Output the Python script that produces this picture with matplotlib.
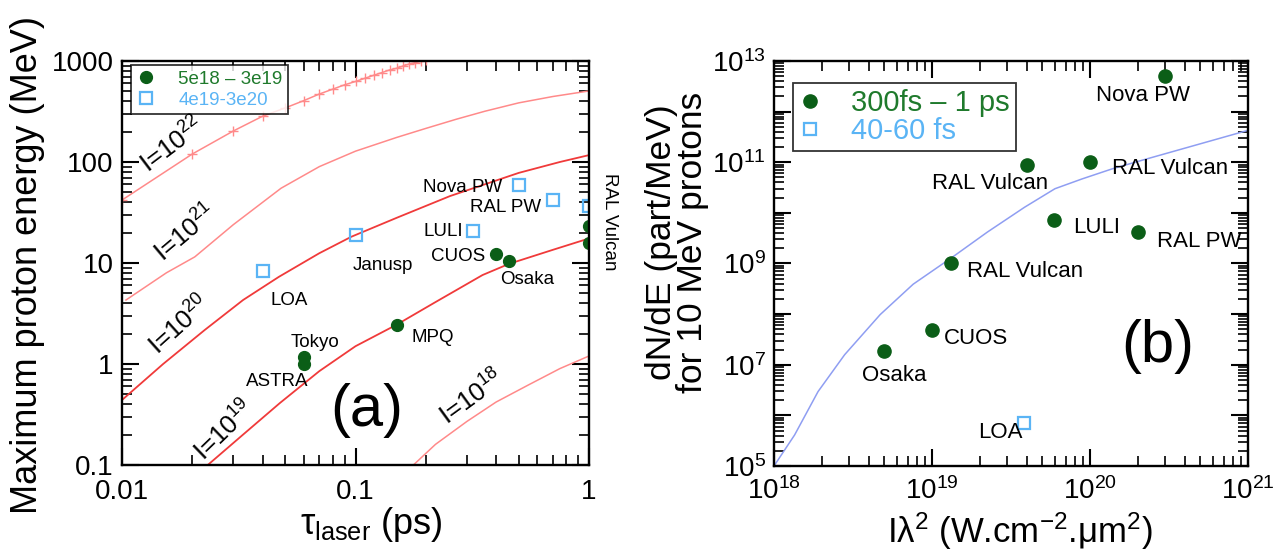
import matplotlib
matplotlib.use("Agg")
import matplotlib.pyplot as plt
from matplotlib.ticker import LogLocator, NullFormatter, FixedLocator

plt.rcParams['font.family'] = ['Liberation Sans', 'DejaVu Sans']
plt.rcParams['mathtext.default'] = 'regular'

# ---------------- panel (a) data ----------------
tau_I22 = [0.01, 0.02, 0.03, 0.04, 0.05, 0.06, 0.07, 0.08, 0.09, 0.10,
           0.11, 0.12, 0.13, 0.14, 0.15, 0.16, 0.17, 0.18, 0.19, 0.20]
E_I22 = [42, 120, 203, 284, 343, 405, 471, 527, 582, 627,
         676, 724, 769, 816, 847, 893, 935, 963, 993, 1020]
tau_I21 = [0.0104, 0.0155, 0.0205, 0.03, 0.048, 0.07, 0.1, 0.15, 0.2, 0.27, 0.358, 0.5, 0.7, 1.0]
E_I21 = [4.3, 8.0, 11.5, 24, 55, 90, 128, 175, 215, 265, 318, 385, 445, 505]
tau_I20 = [0.01, 0.015, 0.0226, 0.033, 0.047, 0.07, 0.096, 0.15, 0.254, 0.5, 0.75, 1.0]
E_I20 = [0.44, 1.0, 2.17, 4.3, 7.3, 12.5, 18.2, 28, 46, 78, 100, 117]
tau_I19 = [0.0233, 0.033, 0.0474, 0.07, 0.1, 0.15, 0.22, 0.35, 0.454, 0.7, 1.0]
E_I19 = [0.1, 0.2, 0.41, 0.85, 1.5, 2.45, 4.1, 7.6, 9.8, 13.5, 17.5]
tau_I18 = [0.177, 0.22, 0.3, 0.4, 0.55, 0.75, 1.0]
E_I18 = [0.1, 0.16, 0.27, 0.42, 0.62, 0.9, 1.2]

curve_labels_a = ['I=10$^{22}$', 'I=10$^{21}$', 'I=10$^{20}$', 'I=10$^{19}$', 'I=10$^{18}$']

green_tau = [0.06, 0.06, 0.15, 0.40, 0.454, 1.0, 1.0]
green_E = [1.18, 1.0, 2.45, 12.4, 10.4, 23, 15.7]
blue_tau = [0.04, 0.10, 0.32, 0.50, 0.70, 1.0]
blue_E = [8.3, 19, 20.8, 59, 42, 37]

names_a = ['Nova PW', 'RAL PW', 'LULI', 'CUOS', 'Janusp', 'Osaka', 'LOA', 'Tokyo', 'ASTRA', 'MPQ']
name_tau_a = [0.288, 0.44, 0.237, 0.274, 0.131, 0.542, 0.0518, 0.0668, 0.046, 0.214]
name_E_a = [55.4, 35.8, 20.3, 11.5, 9.55, 6.8, 4.3, 1.65, 0.664, 1.85]

# ---------------- panel (b) data ----------------
Il2_model = [1.0e18, 1.35e18, 1.9e18, 2.8e18, 4.7e18, 7.6e18, 1.38e19, 2.24e19,
             3.85e19, 6.0e19, 8.9e19, 1.38e20, 2.19e20, 1.0e21]
dNdE_model = [1.0e5, 4.1e5, 2.95e6, 1.58e7, 9.8e7, 3.9e8, 1.41e9, 4.17e9,
              1.29e10, 3.0e10, 4.68e10, 7.4e10, 1.12e11, 4.27e11]

green_Il2 = [3.0e20, 4.0e19, 1.0e20, 5.95e19, 2.0e20, 1.32e19, 1.0e19, 5.0e18]
green_dNdE = [5.1e12, 8.9e10, 1.0e11, 7.2e9, 4.2e9, 1.0e9, 4.9e7, 1.9e7]
blue_Il2 = [3.8e19]
blue_dNdE = [7.2e5]

names_b = ['Nova PW', 'RAL Vulcan', 'RAL Vulcan', 'LULI', 'RAL PW', 'RAL Vulcan', 'CUOS', 'Osaka', 'LOA']
name_x_b = [2.16e20, 2.33e19, 3.2e20, 1.1e20, 4.9e20, 3.88e19, 1.9e19, 5.8e18, 2.7e19]
name_y_b = [2.13e12, 3.88e10, 7.67e10, 5.24e9, 2.77e9, 7.1e8, 3.36e7, 6.2e6, 4.66e5]

GREEN = '#0b5e17'
GREEN_TXT = '#1f7a2c'
BLUE = '#5ab4f5'
RED_DARK = '#f03a3a'
RED_LIGHT = '#ff8a8a'
MODEL_BLUE = '#8f9ef2'

W, H = 1274, 552
fig = plt.figure(figsize=(W / 100, H / 100), dpi=100)

def px_axes(x0, y0, x1, y1):
    return fig.add_axes([x0 / W, 1 - y1 / H, (x1 - x0) / W, (y1 - y0) / H])

def style_axes(ax):
    for s in ax.spines.values():
        s.set_linewidth(1.7)
    ax.tick_params(which='both', direction='in', top=True, right=True)
    ax.tick_params(which='major', length=12, width=1.5)
    ax.tick_params(which='minor', length=7, width=1.2)

# ================= panel (a) =================
axa = px_axes(122, 61, 589, 465)
axa.set_xscale('log')
axa.set_yscale('log')
axa.set_xlim(0.01, 1)
axa.set_ylim(0.1, 1000)
style_axes(axa)

axa.plot(tau_I22, E_I22, color=RED_LIGHT, lw=1.1, marker='+', ms=7, mew=1.0)
axa.plot(tau_I21, E_I21, color=RED_LIGHT, lw=1.1)
axa.plot(tau_I20, E_I20, color=RED_DARK, lw=1.3)
axa.plot(tau_I19, E_I19, color=RED_DARK, lw=1.3)
axa.plot(tau_I18, E_I18, color=RED_LIGHT, lw=1.1)

axa.plot(green_tau, green_E, 'o', color=GREEN, ms=8.5, ls='none', label='5e18 – 3e19')
axa.plot(blue_tau, blue_E, 's', mfc='none', mec=BLUE, mew=1.6, ms=8, ls='none', label='4e19-3e20')

axa.set_xticks([0.01, 0.1, 1], ['0.01', '0.1', '1'])
axa.set_yticks([0.1, 1, 10, 100, 1000], ['0.1', '1', '10', '100', '1000'])
axa.xaxis.set_minor_locator(LogLocator(base=10, subs=range(2, 10)))
axa.yaxis.set_minor_locator(LogLocator(base=10, subs=range(2, 10)))
axa.xaxis.set_minor_formatter(NullFormatter())
axa.yaxis.set_minor_formatter(NullFormatter())
axa.tick_params(axis='both', which='major', labelsize=20)
axa.tick_params(axis='x', pad=10)
axa.tick_params(axis='y', pad=6)

for txt, xx, yy in zip(names_a, name_tau_a, name_E_a):
    axa.text(xx, yy, txt, fontsize=13.5, ha='center', va='center')
axa.text(1.22, 25.5, 'RAL Vulcan', fontsize=13.5, ha='center', va='center',
         rotation=270, clip_on=False)

lab_pos = [(172, 145, 37), (186, 233, 40), (180, 326, 42), (224, 431, 44), (472, 398, 36)]
for txt, (px, py, ang) in zip(curve_labels_a, lab_pos):
    fig.text(px / W, 1 - py / H, txt, fontsize=18.5, rotation=ang,
             ha='center', va='center', rotation_mode='anchor')

fig.text(367 / W, 1 - 411 / H, '(a)', fontsize=43, ha='center', va='center')

leg = axa.legend(loc='upper left', bbox_to_anchor=(0.02, 0.99), fontsize=13.5,
                 frameon=True, fancybox=False, edgecolor='black', handlelength=1.0,
                 handletextpad=1.2, borderpad=0.3, labelspacing=0.2, borderaxespad=0)
leg.get_frame().set_linewidth(1.3)
for t, c in zip(leg.get_texts(), [GREEN_TXT, BLUE]):
    t.set_color(c)

fig.text(28 / W, 1 - 265 / H, 'Maximum proton energy (MeV)', fontsize=26,
         rotation=90, ha='center', va='center')
fig.text(371 / W, 1 - 524 / H, 'τ$_{laser}$ (ps)', fontsize=26, ha='center', va='center')

# ================= panel (b) =================
axb = px_axes(774, 61, 1248, 466)
axb.set_xscale('log')
axb.set_yscale('log')
axb.set_xlim(1e18, 1e21)
axb.set_ylim(1e5, 1e13)
style_axes(axb)

axb.plot(Il2_model, dNdE_model, color=MODEL_BLUE, lw=1.1)
axb.plot(green_Il2, green_dNdE, 'o', color=GREEN, ms=9.5, ls='none', label='300fs – 1 ps')
axb.plot(blue_Il2, blue_dNdE, 's', mfc='none', mec=BLUE, mew=1.6, ms=8, ls='none', label='40-60 fs')

axb.set_xticks([1e18, 1e19, 1e20, 1e21],
               ['10$^{18}$', '10$^{19}$', '10$^{20}$', '10$^{21}$'])
ymaj = [1e5, 1e6, 1e7, 1e8, 1e9, 1e10, 1e11, 1e12, 1e13]
axb.yaxis.set_major_locator(FixedLocator(ymaj))
axb.set_yticklabels(['10$^{5}$', '', '10$^{7}$', '', '10$^{9}$', '', '10$^{11}$', '', '10$^{13}$'])
axb.xaxis.set_minor_locator(LogLocator(base=10, subs=range(2, 10)))
axb.yaxis.set_minor_locator(LogLocator(base=10, subs=range(2, 10), numticks=20))
axb.xaxis.set_minor_formatter(NullFormatter())
axb.yaxis.set_minor_formatter(NullFormatter())
axb.tick_params(axis='both', which='major', labelsize=20)
axb.tick_params(axis='x', pad=8)
axb.tick_params(axis='y', pad=6)

for txt, xx, yy in zip(names_b, name_x_b, name_y_b):
    axb.text(xx, yy, txt, fontsize=16, ha='center', va='center')

fig.text(1158 / W, 1 - 346 / H, '(b)', fontsize=43, ha='center', va='center')

legb = axb.legend(loc='upper left', bbox_to_anchor=(0.04, 0.945), fontsize=21,
                  frameon=True, fancybox=False, edgecolor='black', handlelength=0.8,
                  handletextpad=1.0, borderpad=0.2, labelspacing=0.0, borderaxespad=0)
legb.get_frame().set_linewidth(1.3)
for t, c in zip(legb.get_texts(), [GREEN_TXT, BLUE]):
    t.set_color(c)

fig.text(677 / W, 1 - 242 / H, 'dN/dE (part/MeV)\nfor 10 MeV protons', fontsize=25.5,
         rotation=90, ha='center', va='center', linespacing=0.92)
fig.text(1020 / W, 1 - 531 / H, 'Iλ$^2$ (W.cm$^{-2}$.μm$^2$)', fontsize=25,
         ha='center', va='center')

fig.savefig('out.png', dpi=100)
